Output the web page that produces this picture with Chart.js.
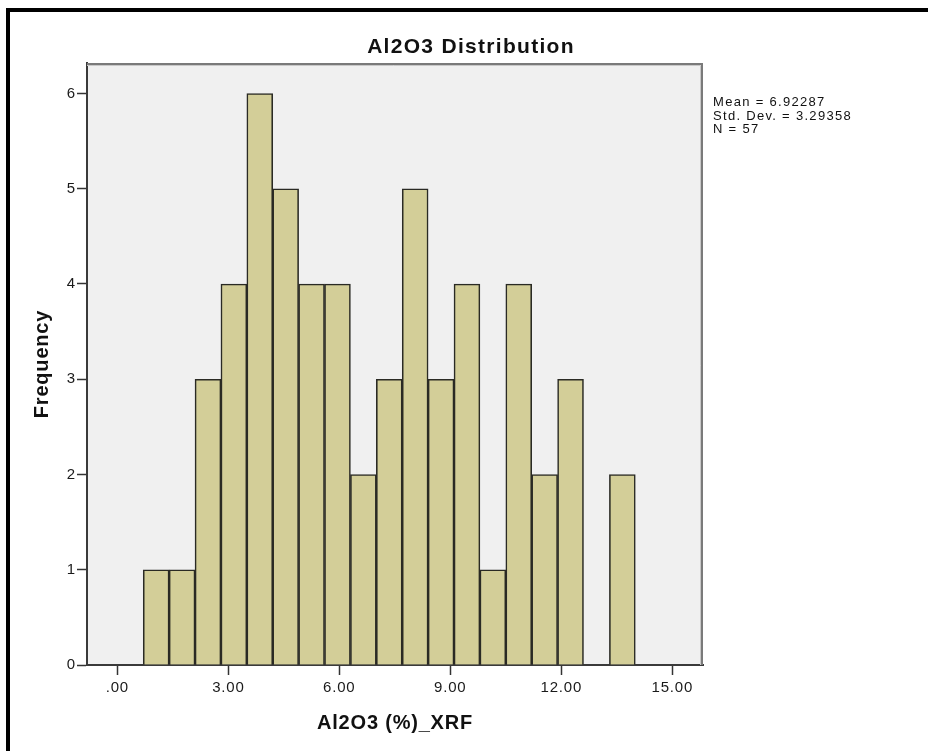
<!DOCTYPE html>
<html><head><meta charset="utf-8">
<script src="https://cdn.jsdelivr.net/npm/chart.js@4.4.1/dist/chart.umd.min.js"></script>
<style>html,body{margin:0;padding:0;background:#fff;} #wrap{width:928px;height:751px;position:relative;}</style>
</head><body><div id="wrap"><canvas id="c"></canvas></div>
<script>
const chartTitle = 'Al2O3 Distribution';
const xAxisTitle = 'Al2O3 (%)_XRF';
const yAxisTitle = 'Frequency';
const binCenters = [1.05, 1.75, 2.45, 3.15, 3.85, 4.55, 5.25, 5.95, 6.65, 7.35, 8.05, 8.75, 9.45, 10.15, 10.85, 11.55, 12.25, 12.95, 13.65];
const frequencies = [1, 1, 3, 4, 6, 5, 4, 4, 2, 3, 5, 3, 4, 1, 4, 2, 3, 0, 2];
const xTickValues = [0, 3, 6, 9, 12, 15];
const xTickLabels = ['.00', '3.00', '6.00', '9.00', '12.00', '15.00'];
const yTickValues = [0, 1, 2, 3, 4, 5, 6];
const statsLines = ['Mean = 6.92287', 'Std. Dev. = 3.29358', 'N = 57'];

const FONT = '"Liberation Sans", Arial, sans-serif';

const decor = {
  id: 'decor',
  beforeLayout(chart) { chart.ctx.letterSpacing = '0.8px'; },
  beforeDraw(chart) {
    const {ctx, chartArea: a} = chart;
    ctx.save();
    ctx.fillStyle = '#000';
    ctx.fillRect(6, 8, 922, 4);
    ctx.fillRect(6, 8, 4, 743);
    ctx.fillStyle = '#f0f0f0';
    ctx.fillRect(a.left, a.top, a.right - a.left, a.bottom - a.top);
    ctx.restore();
    ctx.letterSpacing = '0.8px';
  },
  afterDatasetsDraw(chart) {
    const {ctx, chartArea: a} = chart;
    ctx.save();
    ctx.strokeStyle = '#c8c8c8';
    ctx.lineWidth = 1;
    ctx.beginPath();
    ctx.moveTo(a.left, a.top + 2.5); ctx.lineTo(a.right - 2.5, a.top + 2.5); ctx.lineTo(a.right - 2.5, a.bottom);
    ctx.stroke();
    ctx.strokeStyle = '#7a7a7a';
    ctx.lineWidth = 2;
    ctx.beginPath();
    ctx.moveTo(a.left, a.top + 1); ctx.lineTo(a.right - 1, a.top + 1); ctx.lineTo(a.right - 1, a.bottom);
    ctx.stroke();
    ctx.restore();
  },
  afterDraw(chart) {
    const ctx = chart.ctx;
    ctx.save();
    ctx.fillStyle = '#111';
    ctx.letterSpacing = '1.3px';
    ctx.font = 'bold 21px ' + FONT;
    ctx.textAlign = 'center';
    ctx.textBaseline = 'alphabetic';
    ctx.fillText(chartTitle, 471, 53);
    ctx.letterSpacing = '1.3px';
    ctx.font = '13px ' + FONT;
    ctx.textAlign = 'left';
    statsLines.forEach((s, i) => ctx.fillText(s, 713, 106 + i * 13.5));
    ctx.restore();
  }
};

new Chart(document.getElementById('c'), {
  type: 'bar',
  data: {
    datasets: [{
      data: binCenters.map((c, i) => ({x: c, y: frequencies[i]})),
      backgroundColor: '#d3ce98',
      borderColor: '#2a2a24',
      borderWidth: 1.6,
      barPercentage: 1,
      categoryPercentage: 1
    }]
  },
  options: {
    responsive: true,
    maintainAspectRatio: false,
    animation: false,
    layout: {padding: {left: 20, top: 63, right: 225, bottom: 0}},
    plugins: {legend: {display: false}, tooltip: {enabled: false}, title: {display: false}},
    scales: {
      x: {
        type: 'linear', min: -0.82, max: 15.83, offset: false,
        afterBuildTicks(axis) { axis.ticks = xTickValues.map(v => ({value: v})); },
        afterFit(axis) { axis.height = 86; },
        ticks: {autoSkip: false, maxRotation: 0, padding: 4, color: '#1a1a1a',
          font: {family: FONT, size: 15},
          callback: (v, i) => xTickLabels[i]},
        grid: {drawOnChartArea: false, offset: false, tickLength: 10, tickColor: '#333', tickWidth: 1.5},
        border: {display: true, color: '#3a3a3a', width: 2},
        title: {display: true, text: xAxisTitle, color: '#111',
          font: {family: FONT, size: 20, weight: 'bold'}, padding: {top: 0, bottom: 16}}
      },
      y: {
        min: 0, max: 6.32,
        afterBuildTicks(axis) { axis.ticks = yTickValues.map(v => ({value: v})); },
        afterFit(axis) { axis.width = 67; },
        ticks: {autoSkip: false, padding: 1, color: '#1a1a1a',
          font: {family: FONT, size: 15},
          callback: v => String(v)},
        grid: {drawOnChartArea: false, tickLength: 10, tickColor: '#333', tickWidth: 1.5},
        border: {display: true, color: '#3a3a3a', width: 2},
        title: {display: true, text: yAxisTitle, color: '#111',
          font: {family: FONT, size: 20, weight: 'bold'}, padding: {top: 10, bottom: 0}}
      }
    }
  },
  plugins: [decor]
});
</script>
</body></html>
